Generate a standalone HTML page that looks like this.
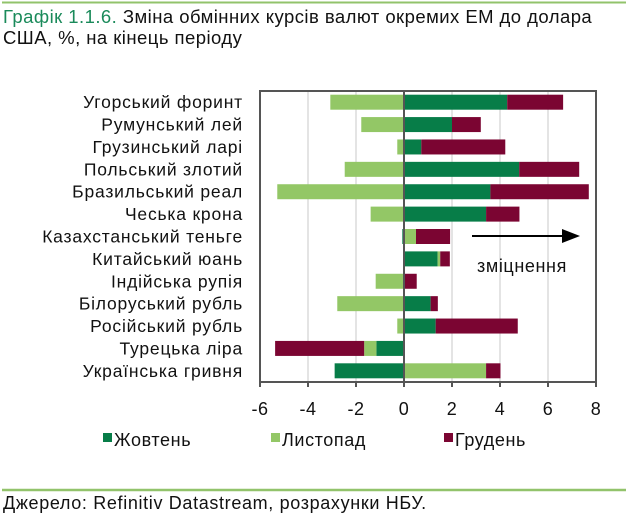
<!DOCTYPE html>
<html><head><meta charset="utf-8"><style>
body{margin:0;background:#fff;width:638px;height:524px;overflow:hidden;font-family:"Liberation Sans","Noto Sans CJK SC",sans-serif;}
</style></head><body>
<svg width="638" height="524" xmlns="http://www.w3.org/2000/svg" font-family="Liberation Sans, sans-serif">
<line x1="2" y1="2.5" x2="626" y2="2.5" stroke="#92c36b" stroke-width="2"/>
<text x="3" y="23" font-size="18.5" letter-spacing="0.45"><tspan fill="#1a8a5a">Графік 1.1.6.</tspan><tspan fill="#111"> Зміна обмінних курсів валют окремих ЕМ до долара</tspan></text>
<text x="3" y="44" font-size="18.5" letter-spacing="0.45" fill="#111">США, %, на кінець періоду</text>
<g id="grid"></g>
<g id="bars"></g>
<g id="labels"></g>
<rect x="260" y="91" width="336" height="291" fill="none" stroke="#555" stroke-width="2"/>
<line id="zero" stroke="#555" stroke-width="2"/>
<line x1="472" y1="236" x2="564" y2="236" stroke="#000" stroke-width="2"/>
<polygon points="562,229 580,236 562,243" fill="#000"/>
<text x="477" y="272" font-size="18" letter-spacing="0.6" fill="#111">зміцнення</text>
<g font-size="18" letter-spacing="0.6" fill="#111">
<rect x="103" y="433" width="9" height="9" fill="#077d48"/>
<text x="114" y="446">Жовтень</text>
<rect x="271" y="433" width="9" height="9" fill="#93c766"/>
<text x="282" y="446">Листопад</text>
<rect x="444" y="433" width="9" height="9" fill="#7b0532"/>
<text x="455" y="446">Грудень</text>
</g>
<line x1="2" y1="490" x2="626" y2="490" stroke="#92c36b" stroke-width="2.5"/>
<text x="3" y="509" font-size="18" letter-spacing="0.65" fill="#111">Джерело: Refinitiv Datastream, розрахунки НБУ.</text>
</svg>
<script>
const categories=["Угорський форинт","Румунський лей","Грузинський ларі","Польський злотий","Бразильський реал","Чеська крона","Казахстанський теньге","Китайський юань","Індійська рупія","Білоруський рубль","Російський рубль","Турецька ліра","Українська гривня"];
const october=[4.3,2.0,0.72,4.8,3.6,3.42,-0.07,1.4,0.02,1.11,1.32,-1.15,-2.89];
const november=[-3.07,-1.78,-0.28,-2.47,-5.28,-1.39,0.5,0.11,-1.18,-2.78,-0.28,-0.51,3.42];
const december=[2.33,1.2,3.5,2.5,4.1,1.39,1.42,0.4,0.51,0.3,3.42,-3.71,0.6];
const ticks=[-6,-4,-2,0,2,4,6,8];
const seriesColors=["#077d48","#93c766","#7b0532"];
const NS="http://www.w3.org/2000/svg";
const X0=260,X1=596,Y0=91,Y1=382,xmin=-6,xmax=8;
const xs=v=>X0+(v-xmin)/(xmax-xmin)*(X1-X0);
const band=(Y1-Y0)/categories.length;
const yc=i=>Y0+band*(i+0.5);
function mk(t,a,p){const e=document.createElementNS(NS,t);for(const k in a)e.setAttribute(k,a[k]);p.appendChild(e);return e;}
const grid=document.getElementById('grid'),bars=document.getElementById('bars'),labels=document.getElementById('labels');
ticks.forEach(t=>{
  if(t!==xmin&&t!==xmax){const g=mk('line',{x1:xs(t),x2:xs(t),y1:Y0,y2:Y1,stroke:'#c8c8c8','stroke-width':1},grid);
  
  }
  const tk=mk('line',{x1:xs(t),x2:xs(t),y1:Y1,y2:Y1+5,stroke:'#555','stroke-width':2},grid);
  
  
  const tl=mk('text',{x:xs(t),y:Y1+33,'text-anchor':'middle','font-size':18,'letter-spacing':0.5,fill:'#111'},labels);
  tl.textContent=t;
  
  
});
const z=document.getElementById('zero');
z.setAttribute('x1',xs(0));z.setAttribute('x2',xs(0));z.setAttribute('y1',Y0);z.setAttribute('y2',Y1);
const series=[october,november,december];
const snames=['october','november','december'];
categories.forEach((c,i)=>{
  let pos=0,neg=0;
  series.forEach((s,k)=>{
    const v=s[i];let a,b;
    if(v>=0){a=pos;b=pos+v;pos=b;}else{a=neg;b=neg+v;neg=b;}
    const r=mk('rect',{x:Math.min(xs(a),xs(b)),y:yc(i)-7.5,width:Math.abs(xs(b)-xs(a)),height:15,fill:seriesColors[k]},bars);
    
    
  });
  const l=mk('text',{x:243,y:yc(i)+6,'text-anchor':'end','font-size':17.5,'letter-spacing':0.8,fill:'#111'},labels);
  l.textContent=c;
  
  
});
</script>
</body></html>
